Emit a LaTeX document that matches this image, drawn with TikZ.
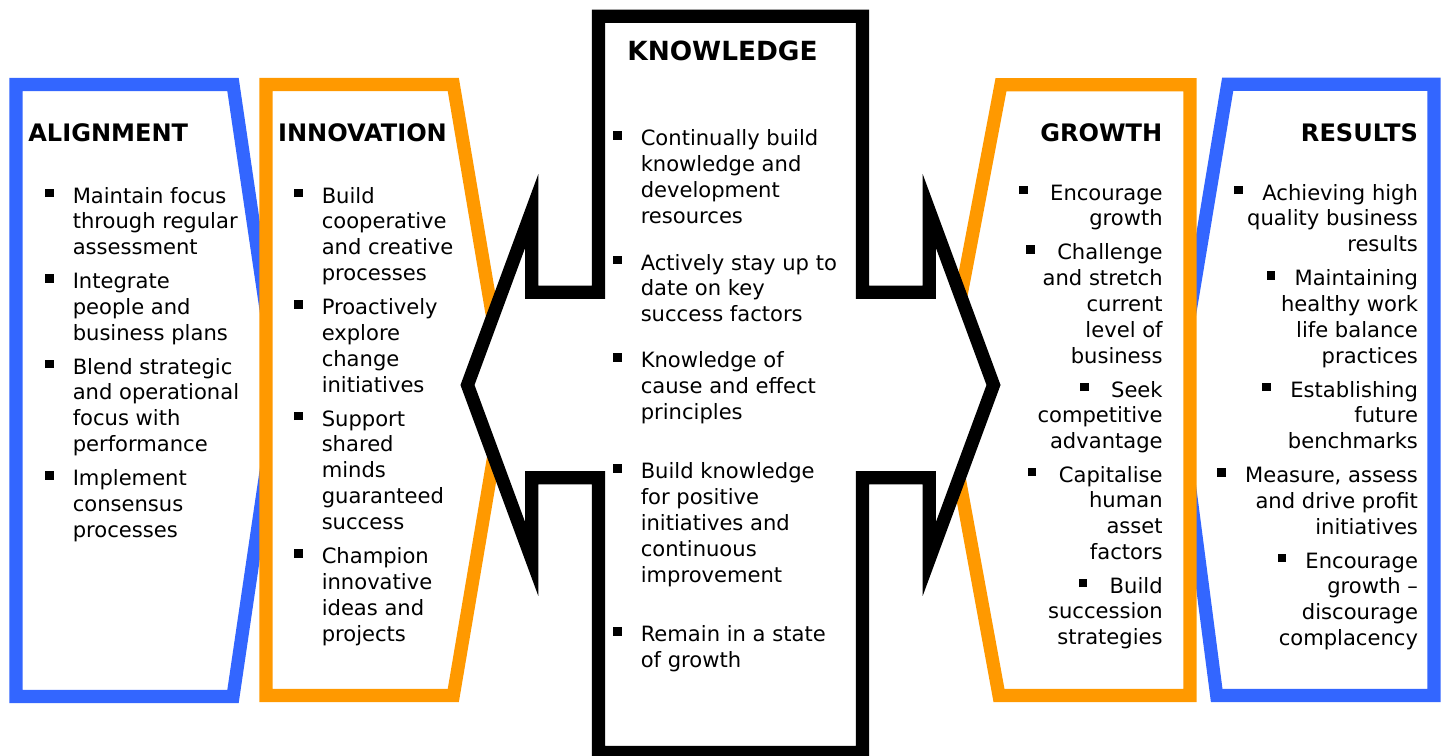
\documentclass[tikz,border=0pt]{standalone}
\usepackage{fontspec}
\setmainfont{DejaVu Sans}
\definecolor{alignblue}{HTML}{3366FF}
\definecolor{innoorange}{HTML}{FF9900}
\newcommand{\bsq}{\rule[3.4pt]{4.8pt}{4.8pt}}
\newcommand{\lbul}[1]{\makebox[15.6pt][l]{\bsq}\begin{tabular}[t]{@{}l@{}}#1\end{tabular}}
\newcommand{\rbul}[2][17.6pt]{\begin{tabular}[t]{@{}r@{}}\makebox[#1][l]{\bsq}#2\end{tabular}}
\begin{document}
\begin{tikzpicture}
	[x=0.02cm, y=-0.02cm,
	frame/.style={line width=7.5pt, fill=white, line join=miter},
	head/.style={inner sep=0pt, font=\fontsize{13.7}{16}\bfseries\selectfont},
	txt/.style={inner sep=0pt, font=\fontsize{12}{14.74}\selectfont}]
	\useasboundingbox (0,0) rectangle (1441,755);
	\draw[frame, draw=alignblue] (16,84.5) -- (233,84.5) -- (278,390.5) -- (233,696.5) -- (16,696.5) -- cycle;
	\draw[frame, draw=alignblue] (1434,84.2) -- (1227.7,84.2) -- (1177,390) -- (1216.7,695.5) -- (1434,695.5) -- cycle;
	\draw[frame, draw=innoorange] (266,84.5) -- (453.3,84.5) -- (505,390) -- (453.3,695.5) -- (266,695.5) -- cycle;
	\draw[frame, draw=innoorange] (1190,84.7) -- (1001,84.7) -- (943,390) -- (999,695.5) -- (1190,695.5) -- cycle;
	\draw[frame, draw=black] (598.5,16.3) -- (862.5,16.3) -- (862.5,292.3) -- (929.3,292.3) -- (929.3,211)
		-- (993.5,385) -- (929.3,559) -- (929.3,477.7) -- (862.5,477.7) -- (862.5,752.5) -- (598.5,752.5)
		-- (598.5,477.7) -- (531.7,477.7) -- (531.7,559) -- (467.5,385) -- (531.7,211) -- (531.7,292.3)
		-- (598.5,292.3) -- cycle;

	\node[head, anchor=base west] (alignment) at (28,141) {ALIGNMENT};
	\node[txt, anchor=base west] (al1) at (45,203) {\lbul{Maintain focus\\through regular\\assessment}};
	\node[txt, anchor=base west] (al2) at (45,288.5) {\lbul{Integrate\\people and\\business plans}};
	\node[txt, anchor=base west] (al3) at (45,374) {\lbul{Blend strategic\\and operational\\focus with\\performance}};
	\node[txt, anchor=base west] (al4) at (45,485.5) {\lbul{Implement\\consensus\\processes}};

	\node[head, anchor=base west] (innovation) at (277.7,141) {INNOVATION};
	\node[txt, anchor=base west] (in1) at (294,203) {\lbul{Build\\cooperative\\and creative\\processes}};
	\node[txt, anchor=base west] (in2) at (294,314.5) {\lbul{Proactively\\explore\\change\\initiatives}};
	\node[txt, anchor=base west] (in3) at (294,426) {\lbul{Support\\shared\\minds\\guaranteed\\success}};
	\node[txt, anchor=base west] (in4) at (294,563.5) {\lbul{Champion\\innovative\\ideas and\\projects}};

	\node[head, anchor=base west, font=\fontsize{15}{18}\bfseries\selectfont] (knowledge) at (627,60) {KNOWLEDGE};
	\node[txt, anchor=base west] (kn1) at (613,145.5) {\lbul{Continually build\\knowledge and\\development\\resources}};
	\node[txt, anchor=base west] (kn2) at (613,270) {\lbul{Actively stay up to\\date on key\\success factors}};
	\node[txt, anchor=base west] (kn3) at (613,367.5) {\lbul{Knowledge of\\cause and effect\\principles}};
	\node[txt, anchor=base west] (kn4) at (613,478.5) {\lbul{Build knowledge\\for positive\\initiatives and\\continuous\\improvement}};
	\node[txt, anchor=base west] (kn5) at (613,641.5) {\lbul{Remain in a state\\of growth}};

	\node[head, anchor=base east] (growth) at (1162.5,141) {GROWTH};
	\node[txt, anchor=base east] (gr1) at (1163,200) {\rbul{Encourage\\growth}};
	\node[txt, anchor=base east] (gr2) at (1163,259.5) {\rbul{Challenge\\and stretch\\current\\level of\\business}};
	\node[txt, anchor=base east] (gr3) at (1163,397) {\rbul{Seek\\competitive\\advantage}};
	\node[txt, anchor=base east] (gr4) at (1163,482) {\rbul{Capitalise\\human\\asset\\factors}};
	\node[txt, anchor=base east] (gr5) at (1163,593) {\rbul{Build\\succession\\strategies}};

	\node[head, anchor=base east] (results) at (1418.3,141) {RESULTS};
	\node[txt, anchor=base east] (re1) at (1418.3,200) {\rbul[15.9pt]{Achieving high\\quality business\\results}};
	\node[txt, anchor=base east] (re2) at (1418.3,285.5) {\rbul[15.9pt]{Maintaining\\healthy work\\life balance\\practices}};
	\node[txt, anchor=base east] (re3) at (1418.3,397) {\rbul[15.9pt]{Establishing\\future\\benchmarks}};
	\node[txt, anchor=base east] (re4) at (1418.3,482.5) {\rbul[15.9pt]{Measure, assess\\and drive profit\\initiatives}};
	\node[txt, anchor=base east] (re5) at (1418.3,568) {\rbul[15.9pt]{Encourage\\growth --\\discourage\\complacency}};
\end{tikzpicture}
\end{document}
